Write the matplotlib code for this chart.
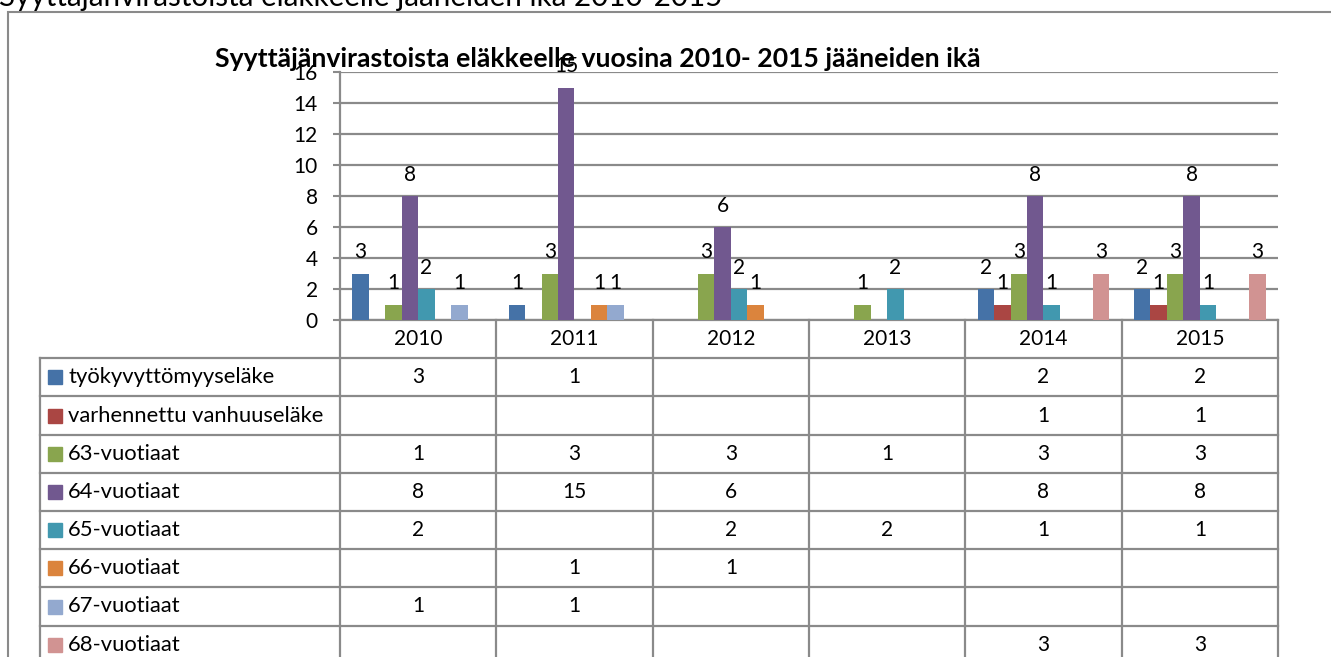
import numpy as np
import matplotlib
matplotlib.use("Agg")
from matplotlib import pyplot as plt
from matplotlib.patches import Rectangle

plt.rcParams['font.family'] = ['Lato', 'DejaVu Sans']

# data (None = empty cell)
years = ['2010', '2011', '2012', '2013', '2014', '2015']
names = ['työkyvyttömyyseläke', 'varhennettu vanhuuseläke', '63-vuotiaat', '64-vuotiaat',
         '65-vuotiaat', '66-vuotiaat', '67-vuotiaat', '68-vuotiaat']
tyokyvyttomyys = [3, 1, None, None, 2, 2]
varhennettu = [None, None, None, None, 1, 1]
v63 = [1, 3, 3, 1, 3, 3]
v64 = [8, 15, 6, None, 8, 8]
v65 = [2, None, 2, 2, 1, 1]
v66 = [None, 1, 1, None, None, None]
v67 = [1, 1, None, None, None, None]
v68 = [None, None, None, None, 3, 3]
series = [tyokyvyttomyys, varhennettu, v63, v64, v65, v66, v67, v68]
colours = ['#4572A7', '#AA4643', '#89A54E', '#71588F', '#4198AF', '#DB843D', '#93A9CF', '#D19392']

W, H = 1331, 657
grey = '#8a8a8a'
fs_num = 15.0   # numbers
fs_txt = 15.8   # legend names

fig = plt.figure(figsize=(W / 100, H / 100), dpi=100)

# outer frame and the heading above it (cut off at the top like the original)
fig.patches.append(Rectangle((8 / W, -0.1), 1.2, (H - 12) / H + 0.1, transform=fig.transFigure,
                             fill=False, ec=grey, lw=1.5))
fig.text(-1 / W, (H - 6) / H, 'Syyttäjänvirastoista eläkkeelle jääneiden ikä 2010-2015',
         fontsize=21.3, va='baseline', ha='left')
fig.text(598 / W, (H - 67) / H, 'Syyttäjänvirastoista eläkkeelle vuosina 2010- 2015 jääneiden ikä',
         fontsize=19.2, fontweight='bold', va='baseline', ha='center')

# bar chart
ax = fig.add_axes([340 / W, (H - 320) / H, 938 / W, 248 / H])
x = np.arange(len(years))
n = len(series)
w = 1 / (n + 1.5)
for i, vals in enumerate(series):
    h = np.array([0 if v is None else v for v in vals], dtype=float)
    bars = ax.bar(x + (i - (n - 1) / 2) * w, h, w, color=colours[i], zorder=3)
    ax.bar_label(bars, labels=['' if v is None else str(v) for v in vals],
                 padding=8, fontsize=fs_num)
ax.set_xlim(-0.5, len(years) - 0.5)
ax.set_ylim(0, 16)
ax.set_yticks(range(0, 17, 2))
ax.set_xticks([])
ax.yaxis.grid(True, color=grey, lw=1.6)
ax.set_axisbelow(True)
ax.tick_params(axis='y', length=5, width=1.5, color=grey, pad=11, labelsize=fs_num)
for s in ['top', 'right']:
    ax.spines[s].set_visible(False)
for s in ['left', 'bottom']:
    ax.spines[s].set_color(grey)
    ax.spines[s].set_linewidth(1.6)

# data table under the chart
leg_w = 300 / (938 / len(years))
rows = len(series) + 1
tab = fig.add_axes([40 / W, (H - 320 - 38.2 * rows) / H, 1238 / W, 38.2 * rows / H])
tab.set_xlim(-0.5 - leg_w, len(years) - 0.5)
tab.set_ylim(rows, 0)
tab.axis('off')
left = -0.5 - leg_w
right = len(years) - 0.5
for k in range(len(years) + 1):
    tab.plot([k - 0.5, k - 0.5], [0, rows], color=grey, lw=1.6, clip_on=False)
tab.plot([left, left], [1, rows], color=grey, lw=1.6, clip_on=False)
for r in range(1, rows):
    tab.plot([left, right], [r, r], color=grey, lw=1.6, clip_on=False)
for j, yr in enumerate(years):
    tab.text(j, 0.5, yr, ha='center', va='center', fontsize=fs_num)
for i, (name, vals) in enumerate(zip(names, series)):
    r = i + 1.5
    tab.plot([left + 0.096], [r], marker='s', ms=10, color=colours[i], clip_on=False)
    tab.text(left + 0.18, r, name, ha='left', va='center', fontsize=fs_txt)
    for j, v in enumerate(vals):
        if v is not None:
            tab.text(j, r, str(v), ha='center', va='center', fontsize=fs_num)

fig.savefig('out.png', dpi=100)
